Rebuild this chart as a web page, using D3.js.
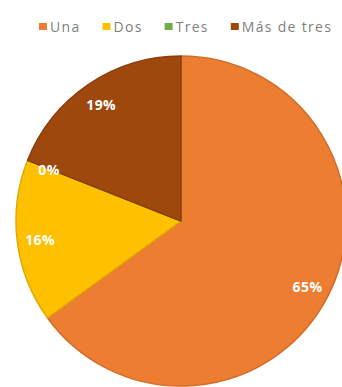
<!DOCTYPE html>
<html>
<head>
<meta charset="utf-8">
<script src="https://cdn.jsdelivr.net/npm/d3@7/dist/d3.min.js"></script>
<style>
  html, body { margin: 0; padding: 0; background: #fff; }
  svg { display: block; }
</style>
</head>
<body>
<svg id="chart" width="342" height="387"></svg>
<script>
// Number of items per household
const categories = ["Una", "Dos", "Tres", "Más de tres"];
const values = [65, 16, 0, 19];
const colors = ["#ED7D31", "#FFC000", "#70AD47", "#9E480E"];

const W = 342, H = 387;
const cx = 181, cy = 221, R = 165;

const svg = d3.select("#chart");

const color = d3.scaleOrdinal().domain(categories).range(colors);

const data = categories.map((c, i) => ({ cat: c, value: values[i] }));

const pie = d3.pie().value(d => d.value).sort(null);
const arcs = pie(data);

const arc = d3.arc().innerRadius(0).outerRadius(R);
const labelArc = d3.arc().innerRadius(142).outerRadius(142);

const g = svg.append("g").attr("transform", `translate(${cx},${cy})`);

g.selectAll("path.slice")
  .data(arcs)
  .join("path")
  .attr("class", "slice")
  .attr("d", arc)
  .attr("fill", d => color(d.data.cat))
  .attr("stroke", d => d3.color(color(d.data.cat)).darker(0.35))
  .attr("stroke-width", 1.5)
  .attr("stroke-linejoin", "round");

g.selectAll("text.lbl")
  .data(arcs)
  .join("text")
  .attr("class", "lbl")
  .attr("transform", d => `translate(${labelArc.centroid(d)})`)
  .attr("text-anchor", "middle")
  .attr("dy", "0.45em")
  .attr("font-family", "'Open Sans', sans-serif")
  .attr("font-weight", "bold")
  .attr("font-size", 14)
  .attr("letter-spacing", 0.4)
  .attr("fill", "#fff")
  .text(d => `${d.data.value}%`);

// Legend across the top
const legend = svg.append("g").attr("transform", "translate(39,27)");
let x = 0;
categories.forEach((c, i) => {
  const item = legend.append("g").attr("transform", `translate(${x},0)`);
  item.append("rect")
    .attr("x", 0).attr("y", -4)
    .attr("width", 8).attr("height", 7)
    .attr("fill", color(c));
  const t = item.append("text")
    .attr("x", 11)
    .attr("y", 0)
    .attr("dy", "0.33em")
    .attr("font-family", "'Open Sans', sans-serif")
    .attr("font-size", 14)
    .attr("letter-spacing", 1.3)
    .attr("fill", "#7f7f7f")
    .text(c);
  x += 11 + t.node().getComputedTextLength() + 22;
});
</script>
</body>
</html>
